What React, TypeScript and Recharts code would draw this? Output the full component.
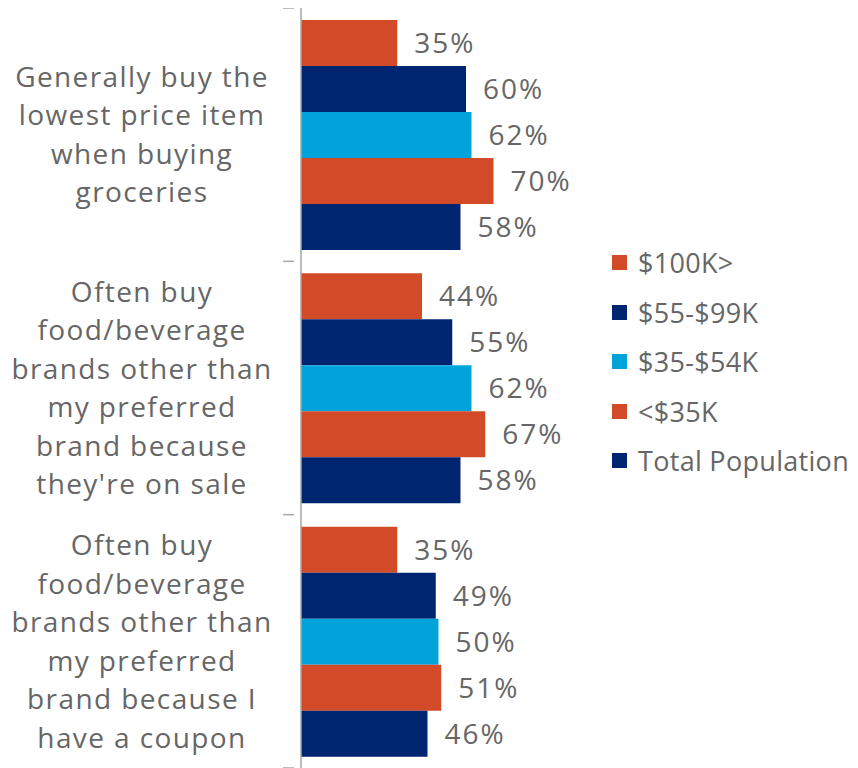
import React from 'react';
import { BarChart, Bar, XAxis, YAxis, LabelList } from 'recharts';

const categories = [
  'Generally buy the\nlowest price item\nwhen buying\ngroceries',
  "Often buy\nfood/beverage\nbrands other than\nmy preferred\nbrand because\nthey're on sale",
  'Often buy\nfood/beverage\nbrands other than\nmy preferred\nbrand because I\nhave a coupon',
];
const seriesNames = ['$100K>', '$55-$99K', '$35-$54K', '<$35K', 'Total Population'];
const income100k = [35, 44, 35];
const income55to99k = [60, 55, 49];
const income35to54k = [62, 62, 50];
const incomeUnder35k = [70, 67, 51];
const totalPopulation = [58, 58, 46];
const colors = ['#D34A28', '#002570', '#00A3DA', '#D34A28', '#002570'];

const seriesValues = [income100k, income55to99k, income35to54k, incomeUnder35k, totalPopulation];
const data = categories.map((c, i) => {
  const row: any = { category: c };
  seriesNames.forEach((s, j) => {
    row['s' + j] = seriesValues[j][i];
  });
  return row;
});

const FONT = '"Open Sans", sans-serif';
const TEXT = '#666666';

const CategoryTick = (props: any) => {
  const { x, y, payload, index } = props;
  const lines = String(payload.value).split('\n');
  const lh = 38.5;
  const band = 760 / 3;
  const startY = y - ((lines.length - 1) * lh) / 2;
  return (
    <g>
      <line x1={x - 10} x2={x + 1} y1={y - band / 2} y2={y - band / 2} stroke="#A6A6A6" strokeWidth={1.5} />
      {index === categories.length - 1 && (
        <line x1={x - 10} x2={x + 1} y1={y + band / 2} y2={y + band / 2} stroke="#A6A6A6" strokeWidth={1.5} />
      )}
      <text
        x={134}
        y={startY}
        textAnchor="middle"
        fontFamily={FONT}
        fontSize={28}
        letterSpacing={1.4}
        fill={TEXT}
      >
        {lines.map((l, i) => (
          <tspan key={i} x={134} y={startY + i * lh} dy="0.36em">
            {l}
          </tspan>
        ))}
      </text>
    </g>
  );
};

export default function App() {
  return (
    <div style={{ position: 'relative', width: 850, height: 760 }}>
      <BarChart
        width={850}
        height={760}
        data={data}
        layout="vertical"
        margin={{ top: 0, right: 282, bottom: 0, left: 0 }}
        barCategoryGap={12}
        barGap={0}
      >
        <XAxis type="number" domain={[0, 100]} hide />
        <YAxis
          type="category"
          dataKey="category"
          width={293}
          axisLine={{ stroke: '#A6A6A6', strokeWidth: 1.5 }}
          tickLine={false}
          tick={<CategoryTick />}
          interval={0}
        />
        {seriesNames.map((s, j) => (
          <Bar key={s} dataKey={'s' + j} name={s} fill={colors[j]} isAnimationActive={false}>
            <LabelList
              dataKey={'s' + j}
              position="right"
              offset={17}
              formatter={(v: any) => v + '%'}
              style={{ fontFamily: FONT, fontSize: 28, fill: TEXT, letterSpacing: 2 }}
            />
          </Bar>
        ))}
      </BarChart>
      <div
        style={{
          position: 'absolute',
          left: 604,
          top: 230,
          fontFamily: FONT,
          fontSize: 27,
          letterSpacing: 0.3,
          color: TEXT,
        }}
      >
        {seriesNames.map((s, i) => (
          <div key={s} style={{ display: 'flex', alignItems: 'center', height: 49.5, whiteSpace: 'nowrap' }}>
            <span style={{ display: 'inline-block', width: 15, height: 15, background: colors[i], marginRight: 11 }} />
            <span>{s}</span>
          </div>
        ))}
      </div>
    </div>
  );
}
